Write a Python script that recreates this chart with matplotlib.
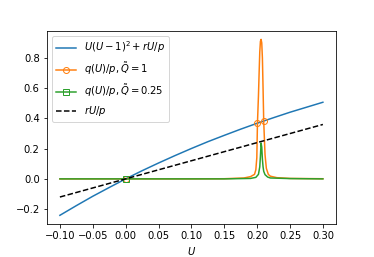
import matplotlib
matplotlib.use("Agg")
import matplotlib.pyplot as plt

# blue curve U(U-1)^2 + rU/p
u_cubic = [-0.10, -0.075, -0.05, -0.025, 0.0, 0.025, 0.05, 0.075, 0.10, 0.125,
           0.15, 0.175, 0.20, 0.225, 0.25, 0.275, 0.30]
y_cubic = [-0.241, -0.177, -0.115, -0.057, 0.0, 0.054, 0.105, 0.154, 0.201, 0.246,
           0.288, 0.329, 0.368, 0.405, 0.441, 0.474, 0.507]

# orange q(U)/p, Q=1
u_q1 = [-0.10, 0.0, 0.10, 0.15, 0.18, 0.19, 0.196, 0.198, 0.1995, 0.2005,
        0.202, 0.203, 0.204, 0.205, 0.206, 0.207, 0.208, 0.209, 0.210, 0.212,
        0.214, 0.217, 0.22, 0.23, 0.25, 0.30]
y_q1 = [0.0, 0.0, 0.0, 0.001, 0.006, 0.015, 0.03, 0.06, 0.14, 0.372,
        0.55, 0.70, 0.84, 0.91, 0.923, 0.90, 0.80, 0.60, 0.380, 0.16,
        0.07, 0.03, 0.018, 0.008, 0.003, 0.001]
q1_marks = [1, 9, 18]

# green q(U)/p, Q=0.25
u_q025 = [-0.10, 0.0, 0.10, 0.15, 0.19, 0.198, 0.202, 0.204, 0.205, 0.206,
          0.207, 0.208, 0.209, 0.210, 0.212, 0.216, 0.22, 0.25, 0.30]
y_q025 = [0.0, 0.0, 0.0, 0.0, 0.003, 0.01, 0.03, 0.08, 0.15, 0.237,
          0.21, 0.13, 0.08, 0.05, 0.028, 0.012, 0.006, 0.002, 0.0]
q025_marks = [1]

# dashed line rU/p
u_lin = [-0.10, 0.30]
y_lin = [-0.12, 0.36]

DPI = 72
fig = plt.figure(figsize=(374 / DPI, 257 / DPI), dpi=DPI)
ax = fig.add_axes([0.125, 0.128, 0.7735, 0.753])

ax.plot(u_cubic, y_cubic, label=r'$U(U-1)^2+rU/p$')
ax.plot(u_q1, y_q1, marker='o', mfc='none', markevery=q1_marks,
        label=r'$q(U)/p, \tilde{Q}=1$')
ax.plot(u_q025, y_q025, marker='s', mfc='none', markevery=q025_marks,
        label=r'$q(U)/p, \tilde{Q}=0.25$')
ax.plot(u_lin, y_lin, 'k--', label=r'$rU/p$')

ax.set_xlabel(r'$U$')
ax.legend(loc='upper left')

fig.savefig('out.png', dpi=DPI)
